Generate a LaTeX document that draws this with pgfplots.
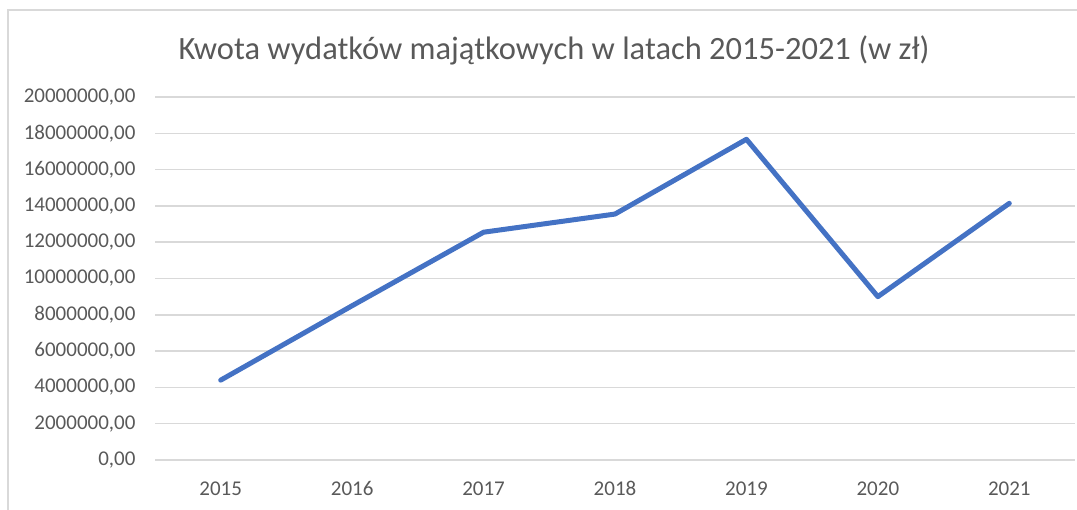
\documentclass[border=0pt]{standalone}
\usepackage{pgfplots}
\pgfplotsset{compat=1.18}
\usepackage{fontspec}
\setmainfont{Carlito}
\definecolor{excelblue}{RGB}{68,114,196}
\definecolor{gridgray}{RGB}{217,217,217}
\definecolor{txtgray}{RGB}{89,89,89}

\begin{document}
\begin{tikzpicture}[x=1pt,y=1pt]
% page frame, 1 unit = 1 px of the reference
\path[use as bounding box] (0,0) rectangle (1077,510);
\draw[gridgray,line width=1.5pt] (8,0) -- (8,500) -- (1077,500);
\node[txtgray,font=\fontsize{32.5}{36}\selectfont] at (554,460) {Kwota wydatków majątkowych w latach 2015-2021 (w zł)};
\begin{axis}[
  at={(155pt,50pt)}, anchor=south west,
  scale only axis,
  width=920pt, height=363pt,
  xmin=-0.5, xmax=6.5,
  ymin=0, ymax=20000000,
  xtick=data,
  xticklabels={2015,2016,2017,2018,2019,2020,2021},
  ytick={0,2000000,...,20000000},
  scaled y ticks=false,
  yticklabel={\pgfmathprintnumber[fixed,precision=0,1000 sep={}]{\tick},00},
  /pgf/number format/assume math mode=true,
  axis line style={draw=none},
  axis x line*=bottom,
  x axis line style={draw=gridgray,line width=1.5pt},
  tick style={draw=none},
  ymajorgrids,
  grid style={gridgray,line width=1.5pt},
  ticklabel style={txtgray,font=\fontsize{21}{24}\selectfont},
  yticklabel style={xshift=-16pt},
  xticklabel style={anchor=base,yshift=-36pt},
  clip=false,
]
\addplot[excelblue,line width=5pt,line join=round,line cap=round] coordinates {
  (0,4400000)
  (1,8500000)
  (2,12550000)
  (3,13550000)
  (4,17670000)
  (5,9000000)
  (6,14140000)
};
\end{axis}
\end{tikzpicture}
\end{document}
